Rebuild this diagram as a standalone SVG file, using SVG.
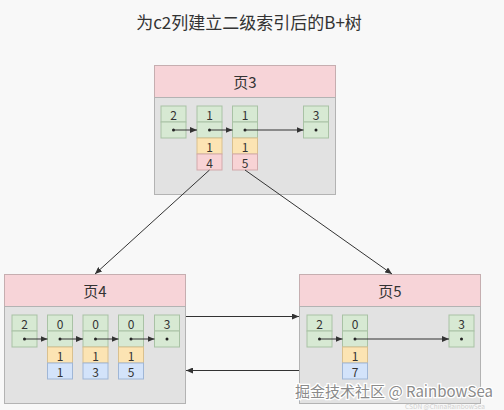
<svg xmlns="http://www.w3.org/2000/svg" width="504" height="410" viewBox="0 0 504 410">
<defs>
<marker id="ah" markerWidth="7" markerHeight="6" refX="7" refY="3" orient="auto" markerUnits="userSpaceOnUse">
<path d="M0,0 L7,3 L0,6 Z" fill="#333"/>
</marker>
<style>
text{font-family:"Noto Sans CJK SC","Liberation Sans",sans-serif;fill:#333;text-anchor:middle;dominant-baseline:central}
.hdr{fill:#f7d4d8;stroke:#c6aeb0;stroke-width:1}
.body{fill:#e2e2e2;stroke:#b3b3b3;stroke-width:1}
.g{fill:#d7e9d3;stroke:#a9c2a5;stroke-width:1}
.y{fill:#fce4b3;stroke:#d9c08e;stroke-width:1}
.p{fill:#f8d3d5;stroke:#d2a9ab;stroke-width:1}
.b{fill:#d3e3fa;stroke:#9fb6d6;stroke-width:1}
.lbl{font-size:15px}
.num{font-size:12px}
.ptr{stroke:#333;stroke-width:1;fill:none;marker-end:url(#ah)}
.dot{fill:#222}
</style>
</defs>
<rect width="504" height="410" fill="#f8f8f8"/>
<text x="249" y="21" style="font-size:17px">为c2列建立二级索引后的B+树</text>

<g id="page3">
<rect class="hdr" x="154.5" y="65.5" width="181" height="32"/>
<rect class="body" x="154.5" y="97.5" width="181" height="97"/>
<text class="lbl" x="245" y="81">页3</text>
<rect class="g" x="161" y="106" width="25" height="16"/><rect class="g" x="161" y="122" width="25" height="16"/>
<text class="num" x="173.5" y="114">2</text>
<rect class="g" x="197" y="106" width="25" height="16"/><rect class="g" x="197" y="122" width="25" height="16"/>
<rect class="y" x="197" y="138" width="25" height="16"/><rect class="p" x="197" y="154" width="25" height="16"/>
<text class="num" x="209.5" y="114">1</text><text class="num" x="209.5" y="146">1</text><text class="num" x="209.5" y="162">4</text>
<rect class="g" x="232.5" y="106" width="25" height="16"/><rect class="g" x="232.5" y="122" width="25" height="16"/>
<rect class="y" x="232.5" y="138" width="25" height="16"/><rect class="p" x="232.5" y="154" width="25" height="16"/>
<text class="num" x="245" y="114">1</text><text class="num" x="245" y="146">1</text><text class="num" x="245" y="162">5</text>
<rect class="g" x="303.5" y="106" width="25" height="16"/><rect class="g" x="303.5" y="122" width="25" height="16"/>
<text class="num" x="316" y="114">3</text>
<circle class="dot" cx="173.5" cy="130" r="1.5"/><circle class="dot" cx="209.5" cy="130" r="1.5"/><circle class="dot" cx="245" cy="130" r="1.5"/><circle class="dot" cx="316" cy="130" r="1.5"/>
</g>

<g id="page4">
<rect class="hdr" x="4.5" y="274.5" width="181" height="32"/>
<rect class="body" x="4.5" y="306.5" width="181" height="97"/>
<text class="lbl" x="95" y="290">页4</text>
<rect class="g" x="12" y="315" width="25" height="16"/><rect class="g" x="12" y="331" width="25" height="16"/>
<text class="num" x="24.5" y="323">2</text>
<rect class="g" x="47.5" y="315" width="25" height="16"/><rect class="g" x="47.5" y="331" width="25" height="16"/>
<rect class="y" x="47.5" y="347" width="25" height="16"/><rect class="b" x="47.5" y="363" width="25" height="16"/>
<text class="num" x="60" y="323">0</text><text class="num" x="60" y="355">1</text><text class="num" x="60" y="371">1</text>
<rect class="g" x="83" y="315" width="25" height="16"/><rect class="g" x="83" y="331" width="25" height="16"/>
<rect class="y" x="83" y="347" width="25" height="16"/><rect class="b" x="83" y="363" width="25" height="16"/>
<text class="num" x="95.5" y="323">0</text><text class="num" x="95.5" y="355">1</text><text class="num" x="95.5" y="371">3</text>
<rect class="g" x="118.5" y="315" width="25" height="16"/><rect class="g" x="118.5" y="331" width="25" height="16"/>
<rect class="y" x="118.5" y="347" width="25" height="16"/><rect class="b" x="118.5" y="363" width="25" height="16"/>
<text class="num" x="131" y="323">0</text><text class="num" x="131" y="355">1</text><text class="num" x="131" y="371">5</text>
<rect class="g" x="154.5" y="315" width="25" height="16"/><rect class="g" x="154.5" y="331" width="25" height="16"/>
<text class="num" x="167" y="323">3</text>
<circle class="dot" cx="24.5" cy="339" r="1.5"/><circle class="dot" cx="60" cy="339" r="1.5"/><circle class="dot" cx="95.5" cy="339" r="1.5"/><circle class="dot" cx="131" cy="339" r="1.5"/><circle class="dot" cx="167" cy="339" r="1.5"/>
</g>

<g id="page5">
<rect class="hdr" x="299.5" y="274.5" width="181" height="32"/>
<rect class="body" x="299.5" y="306.5" width="181" height="97"/>
<text class="lbl" x="390" y="290">页5</text>
<rect class="g" x="307" y="315" width="25" height="16"/><rect class="g" x="307" y="331" width="25" height="16"/>
<text class="num" x="319.5" y="323">2</text>
<rect class="g" x="342.5" y="315" width="25" height="16"/><rect class="g" x="342.5" y="331" width="25" height="16"/>
<rect class="y" x="342.5" y="347" width="25" height="16"/><rect class="b" x="342.5" y="363" width="25" height="16"/>
<text class="num" x="355" y="323">0</text><text class="num" x="355" y="355">1</text><text class="num" x="355" y="371">7</text>
<rect class="g" x="449" y="315" width="25" height="16"/><rect class="g" x="449" y="331" width="25" height="16"/>
<text class="num" x="461.5" y="323">3</text>
<circle class="dot" cx="319.5" cy="339" r="1.5"/><circle class="dot" cx="355" cy="339" r="1.5"/><circle class="dot" cx="461.5" cy="339" r="1.5"/>
</g>

<g id="connectors">
<path class="ptr" d="M173.5,130 H197"/>
<path class="ptr" d="M209.5,130 H232.5"/>
<path class="ptr" d="M245,130 H303.5"/>
<path class="ptr" d="M24.5,339 H47.5"/>
<path class="ptr" d="M60,339 H83"/>
<path class="ptr" d="M95.5,339 H118.5"/>
<path class="ptr" d="M131,339 H154.5"/>
<path class="ptr" d="M319.5,339 H342.5"/>
<path class="ptr" d="M355,339 H449"/>
<path class="ptr" d="M209.5,170 L95,274"/>
<path class="ptr" d="M245,170 L392,274"/>
<path class="ptr" d="M186,316.5 H299"/>
<path class="ptr" d="M299,370.5 H186"/>
</g>

<text x="394" y="390" style="font-size:15px;fill:#8a8a8a;stroke:#ffffff;stroke-width:2.5;paint-order:stroke">掘金技术社区 @ RainbowSea</text>
<text x="445" y="405.5" style="font-size:6.5px;fill:#d0d0d0">CSDN @ChinaRainbowSea</text>
</svg>
